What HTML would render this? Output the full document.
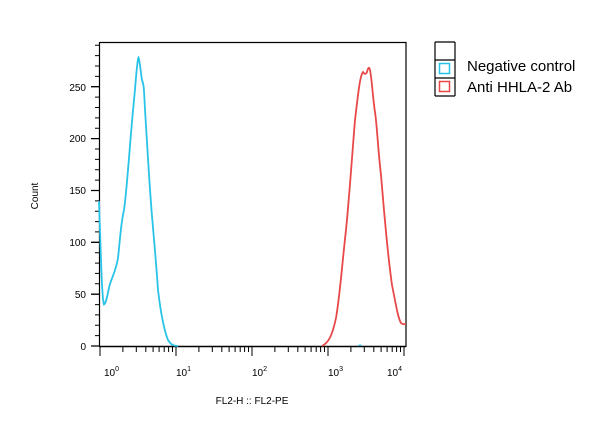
<!DOCTYPE html>
<html><head><style>body{margin:0;background:#fff}svg{display:block}</style></head><body>
<svg width="616" height="426" xmlns="http://www.w3.org/2000/svg" font-family="Liberation Sans, Arial, sans-serif">
<rect width="616" height="426" fill="#fff"/>
<g stroke="#000" fill="none">
<path d="M99.5,42.5 H406 V347 M99.5,42 V347" stroke-width="1.2"/>
<path d="M99,346.5 H406" stroke-width="1.5"/>
</g>
<g stroke="#000" stroke-width="1.3">
<path d="M91,346H99M91,294.2H99M91,242.3H99M91,190.5H99M91,138.6H99M91,86.7H99"/>
<path d="M95,335.6H99M95,325.3H99M95,314.9H99M95,304.6H99M95,283.8H99M95,273.4H99M95,263.1H99M95,252.7H99M95,231.9H99M95,221.6H99M95,211.2H99M95,200.9H99M95,180.1H99M95,169.7H99M95,159.4H99M95,149H99M95,128.2H99M95,117.9H99M95,107.5H99M95,97.1H99M95,76.4H99M95,66H99M95,55.6H99M95,45.3H99" stroke-width="1"/>
</g>
<g stroke="#000" stroke-width="1">
<path id="dec" d="M100,347V356M122.9,347V352M136.3,347V352M145.8,347V352M153.1,347V352M159.1,347V352M164.2,347V352M168.6,347V352M172.5,347V352M176,347V356"/>
<use href="#dec" x="76"/><use href="#dec" x="152"/><use href="#dec" x="228"/>
</g>
<g font-size="10" fill="#000" text-anchor="end">
<text x="86" y="350">0</text><text x="86" y="298">50</text><text x="86" y="246">100</text><text x="86" y="194">150</text><text x="86" y="142">200</text><text x="86" y="91">250</text>
</g>
<g font-size="10" fill="#000">
<text x="104" y="376">10<tspan font-size="7" dy="-5">0</tspan></text>
<text x="176" y="376">10<tspan font-size="7" dy="-5">1</tspan></text>
<text x="252" y="376">10<tspan font-size="7" dy="-5">2</tspan></text>
<text x="328" y="376">10<tspan font-size="7" dy="-5">3</tspan></text>
<text x="387" y="376">10<tspan font-size="7" dy="-5">4</tspan></text>
<text x="252" y="404" text-anchor="middle">FL2-H :: FL2-PE</text>
<text transform="translate(38,196) rotate(-90)" text-anchor="middle">Count</text>
</g>
<path fill="none" stroke="#29c3e8" stroke-width="1.8" d="M99,201 C101,260 102,300 104,304.5 C107,302 108,290 110,284 C113,275 116,270 118,258 C120,240 121,222 124,210 C127,190 130,140 134,100 C136,80 137,60 138.5,57.5 C140,62 141,75 142,80 C144,85 144,90 145,110 C147,140 149,180 152,216 C154,240 156,260 158,290 C161,315 164,330 168,340 C171,345 174,346 178,346"/>
<path fill="none" stroke="#e84848" stroke-width="1.8" d="M322,346 C328,343 332,337 336,318 C340,295 342,265 346,230 C349,200 351,170 355,120 C358,95 360,75 363,72 C365,75 366,74 367,72 C368,68 369,66 370,70 C372,80 373,100 375,112 C377,125 378,150 381,175 C384,210 387,250 392,285 C396,305 398,318 401,323 C403,325 404,324 406,324"/>
<path fill="none" stroke="#29c3e8" stroke-width="1" d="M358,346 Q360,344 362,346"/>
<g stroke="#000" stroke-width="1.2" fill="none">
<path d="M435,42V96M455,42V96M435,42H455M435,60H455M435,78H455M435,96H455"/>
</g>
<rect x="439.5" y="63.5" width="10" height="10" fill="none" stroke="#29c3e8" stroke-width="1.5"/>
<rect x="439.5" y="81.5" width="10" height="10" fill="none" stroke="#e84848" stroke-width="1.5"/>
<g font-size="15" fill="#000">
<text x="467" y="71">Negative control</text>
<text x="467" y="92">Anti HHLA-2 Ab</text>
</g>
</svg>
</body></html>
